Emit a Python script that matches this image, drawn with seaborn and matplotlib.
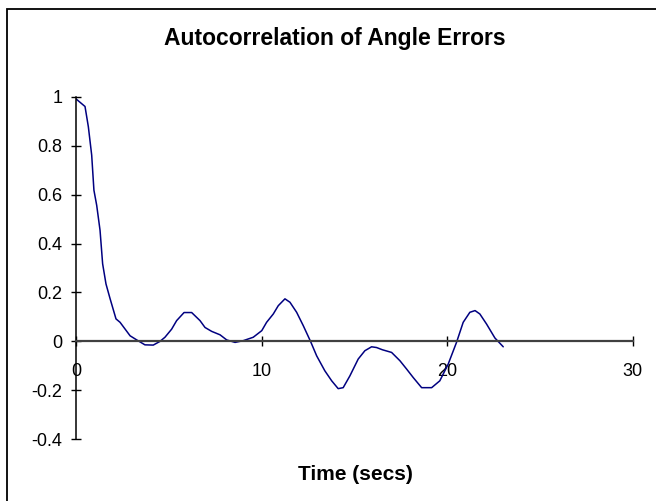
import pandas as pd
import matplotlib
matplotlib.use("Agg")
import matplotlib.pyplot as plt
import seaborn as sns
from matplotlib.patches import Rectangle

# lag (s) and autocorrelation
time_s = [0, 0.47, 0.65, 0.83, 0.95, 1.1, 1.28, 1.42, 1.6, 1.82, 2.14, 2.36, 2.9, 3.26,
          3.7, 4.15, 4.51, 4.78, 5.14, 5.41, 5.81, 6.22, 6.67, 6.94, 7.3, 7.75, 8.11,
          8.56, 9.0, 9.54, 10.0, 10.26, 10.62, 10.89, 11.25, 11.52, 11.88, 12.24, 12.63,
          12.96, 13.4, 13.77, 14.12, 14.39, 14.75, 15.2, 15.56, 15.92, 16.19, 16.5, 17.0,
          17.45, 17.81, 18.17, 18.62, 19.16, 19.6, 20.05, 20.5, 20.86, 21.22, 21.5,
          21.76, 22.12, 22.57, 23.02]
acf = [0.99, 0.96, 0.877, 0.761, 0.618, 0.556, 0.454, 0.317, 0.235, 0.175, 0.092, 0.078,
       0.023, 0.006, -0.014, -0.015, 0.0, 0.017, 0.05, 0.085, 0.118, 0.118, 0.085, 0.057,
       0.041, 0.027, 0.006, -0.004, 0.003, 0.017, 0.044, 0.078, 0.112, 0.146, 0.174,
       0.16, 0.119, 0.064, 0.0, -0.059, -0.12, -0.161, -0.193, -0.189, -0.141, -0.072,
       -0.038, -0.022, -0.025, -0.034, -0.045, -0.079, -0.113, -0.148, -0.189, -0.189,
       -0.161, -0.093, -0.004, 0.078, 0.119, 0.126, 0.112, 0.071, 0.014, -0.022]

x_ticks = [0, 10, 20, 30]
y_ticks = [1, 0.8, 0.6, 0.4, 0.2, 0, -0.2, -0.4]
y_labels = ["1", "0.8", "0.6", "0.4", "0.2", "0", "-0.2", "-0.4"]

df = pd.DataFrame({"t": time_s, "r": acf})

sns.set_style("white")
plt.rcParams["font.family"] = ["Liberation Sans", "DejaVu Sans"]
plt.rcParams["text.color"] = "black"

W, H = 656, 501
fig = plt.figure(figsize=(W / 100, H / 100), dpi=100)
ax = fig.add_axes([76.3 / W, (H - 439.3) / H, (632.7 - 76.3) / W, (439.3 - 96.7) / H])
ax.patch.set_alpha(0)

sns.lineplot(data=df, x="t", y="r", sort=False, color="#000080", linewidth=1.1, ax=ax)

ax.set_xlim(0, 30)
ax.set_ylim(-0.4, 1)
ax.set_xticks(x_ticks)
ax.set_xticklabels([str(v) for v in x_ticks])
ax.set_yticks(y_ticks)
ax.set_yticklabels(y_labels)

ax.spines["top"].set_visible(False)
ax.spines["right"].set_visible(False)
ax.spines["bottom"].set_position(("data", 0))
ax.spines["bottom"].set_color("#404040")
ax.spines["bottom"].set_linewidth(1.6)
ax.spines["left"].set_color("black")
ax.spines["left"].set_linewidth(1.1)

ax.tick_params(axis="y", direction="inout", length=7.2, width=1.0, colors="black",
               labelsize=13, pad=6.5, left=True)
ax.tick_params(axis="x", direction="inout", length=7.5, width=1.0, colors="black",
               labelsize=13, pad=11.5, bottom=True)
ax.set_xlabel("")
ax.set_ylabel("")

fig.text(335 / W, 1 - 38 / H, "Autocorrelation of Angle Errors", ha="center", va="center",
         fontsize=16.5, fontweight="bold", color="black")
fig.text(355 / W, 1 - 475 / H, "Time (secs)", ha="center", va="center",
         fontsize=15, fontweight="bold", color="black")

# chart area border (runs off the right and bottom edges)
fig.patches.append(Rectangle((6.5 / W, -0.05), 1.2, 1 - 9 / H + 0.05,
                             transform=fig.transFigure, fill=False,
                             edgecolor="black", linewidth=1.3))

fig.savefig("out.png", dpi=100)
